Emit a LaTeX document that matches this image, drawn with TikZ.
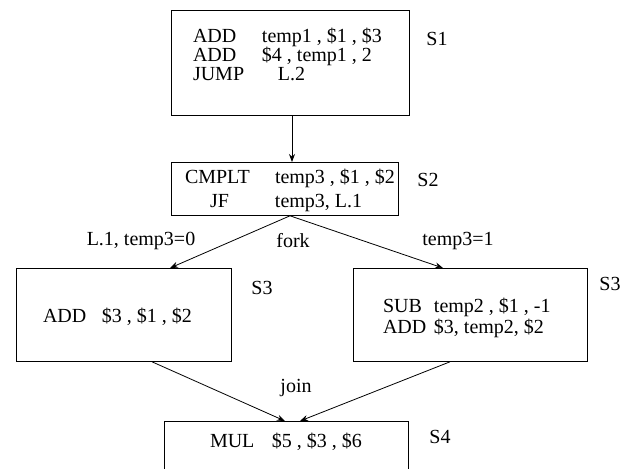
\documentclass[tikz,border=0pt]{standalone}
\usepackage{fontspec}
\setmainfont{Liberation Serif}
\usepackage{tikz}
\usetikzlibrary{arrows.meta,positioning}
\tikzset{>={Stealth[length=8pt,width=6pt]}}
\tikzset{block node/.style={draw,line width=0.8pt,inner sep=0pt,anchor=north,font=\fontsize{20}{19}\selectfont},
         tag node/.style={inner sep=0pt,font=\fontsize{20}{19}\selectfont},
            }
\newcommand\colbox[2]{\makebox[#1][l]{#2}}
\newcommand\codelines[1]{\vtop{\baselineskip=19pt\lineskiplimit=-\maxdimen\lineskip=0pt #1}}

\begin{document}
\begin{tikzpicture}[x=1pt,y=-1pt]

    \useasboundingbox (0,0) rectangle (633,469);

    \node[block node,minimum width=238pt,text height=32pt,text depth=73pt] (1) at (290,10)
      {\codelines{\hbox{\colbox{69pt}{ADD}\colbox{125pt}{temp1 , \$1 , \$3}}
                  \hbox{\colbox{69pt}{ADD}\colbox{125pt}{\$4 , temp1 , 2}}
                  \hbox{\colbox{85pt}{JUMP}\colbox{109pt}{L.2}}}};
    \node[block node,minimum width=227pt,text height=21pt,text depth=32pt] (2) at (284.5,162)
      {\codelines{\hbox{\colbox{90pt}{CMPLT}\colbox{109pt}{temp3 , \$1 , \$2}}\vskip5pt
                  \hbox{\colbox{90pt}{\hspace{25pt}JF}\colbox{109pt}{temp3, L.1}}}};
    \node[block node,minimum width=215pt,text height=54pt,text depth=39pt] (3) at (123.5,268)
      {\codelines{\hbox{\colbox{59pt}{ADD}\colbox{102pt}{\$3 , \$1 , \$2}}}};
    \node[block node,minimum width=234pt,text height=44pt,text depth=49pt] (4) at (470,268)
      {\codelines{\hbox{\colbox{51pt}{SUB}\colbox{123pt}{temp2 , \$1 , -1}}\vskip2pt
                  \hbox{\colbox{51pt}{ADD}\colbox{123pt}{\$3, temp2, \$2}}}};
    \node[block node,minimum width=244pt,text height=26pt,text depth=53pt] (5) at (286,421)
      {\codelines{\hbox{\colbox{62pt}{MUL}\colbox{90pt}{\$5 , \$3 , \$6}}}};

    \node[tag node] (s1) at (437,39) {S1};
    \node[tag node] (s2) at (428,180) {S2};
    \node[tag node] (s3a) at (262,288) {S3};
    \node[tag node] (s3b) at (610,284) {S3};
    \node[tag node] (s4) at (440,437) {S4};

    \node[tag node] (l1) at (141,241) {L.1, temp3=0};
    \node[tag node] (fork) at (293,241) {fork};
    \node[tag node] (t1) at (458,241) {temp3=1};
    \node[tag node] (join) at (296,388) {join};

    \path[line width=0.8pt,->]
    ([xshift=2pt]1.south) edge node {} ([xshift=7.5pt]2.north);

    \path[line width=0.8pt,->]
    ([xshift=5.5pt]2.south) edge node {} ([xshift=46.5pt]3.north)
    ([xshift=5.5pt]2.south) edge node {} ([xshift=-27pt]4.north);

    \path[line width=0.8pt,->]
    ([xshift=28.5pt]3.south) edge node {} ([xshift=-1pt]5.north)
    ([xshift=-20pt]4.south) edge node {} ([xshift=14pt]5.north);

\end{tikzpicture}
\end{document}
